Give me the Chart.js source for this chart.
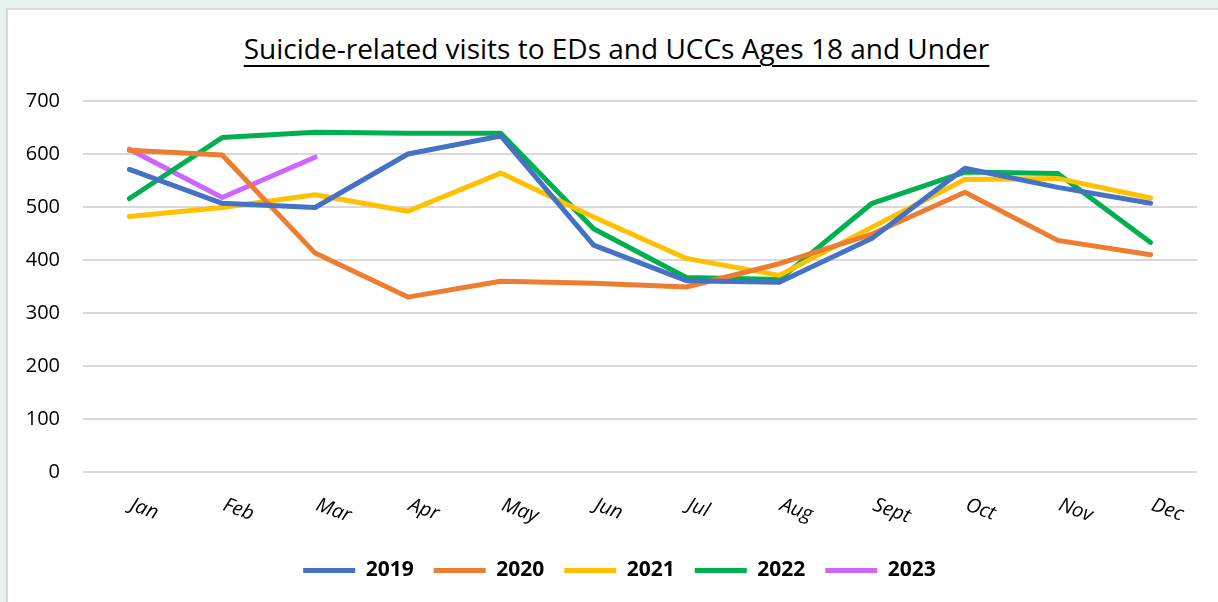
<!DOCTYPE html>
<html>
<head>
<meta charset="utf-8">
<script src="https://cdn.jsdelivr.net/npm/chart.js@4.4.1/dist/chart.umd.min.js"></script>
<style>
  html, body { margin: 0; padding: 0; }
  body { width: 1218px; height: 602px; background: #e9f3ef; position: relative; overflow: hidden; font-family: "Open Sans", sans-serif; }
  #frame { position: absolute; left: 6px; top: 8px; width: 1300px; height: 700px; background: #fff; border: 2px solid #d9d9d9; }
  #title { position: absolute; left: 0; width: 1233px; top: 29px; text-align: center; font-size: 28px; line-height: 38px; color: #000;
           text-decoration: underline; text-decoration-thickness: 2px; text-underline-offset: 6px; }
  #wrap { position: absolute; left: 0; top: 0; width: 1218px; height: 602px; }
</style>
</head>
<body>
<div id="frame"></div>
<div id="title">Suicide-related visits to EDs and UCCs Ages 18 and Under</div>
<div id="wrap"><canvas id="visitsChart" width="1218" height="602"></canvas></div>
<script>
const months = ["Jan", "Feb", "Mar", "Apr", "May", "Jun", "Jul", "Aug", "Sept", "Oct", "Nov", "Dec"];
const yTicks = [0, 100, 200, 300, 400, 500, 600, 700];

const visits2019 = [571, 507, 499, 600, 634, 428, 361, 358, 441, 573, 537, 507];
const visits2020 = [607, 598, 413, 330, 360, 356, 349, 393, 449, 528, 437, 410];
const visits2021 = [482, 499, 523, 492, 564, 481, 403, 371, 462, 552, 554, 517];
const visits2022 = [516, 631, 641, 639, 639, 459, 367, 363, 507, 566, 563, 433];
const visits2023 = [609, 518, 594];

function series(label, data, color) {
    return {
        label: label,
        data: data,
        borderColor: color,
        backgroundColor: color,
        borderWidth: 5,
        borderCapStyle: "round",
        borderJoinStyle: "round",
        pointRadius: 0,
        pointHoverRadius: 0,
        tension: 0,
        fill: false
    };
}

// month labels are slanted downward and start at the tick, so draw them by hand
const slantedLabels = {
    id: "slantedLabels",
    beforeDraw(chart) {
        // nudge the legend a little right, like the original
        chart.legend.left += 11;
        chart.legend.right += 11;
    },
    afterDraw(chart) {
        const ctx = chart.ctx;
        const xs = chart.scales.x;
        ctx.save();
        ctx.font = "italic 20px 'Open Sans'";
        ctx.fillStyle = "#000";
        ctx.textAlign = "left";
        ctx.textBaseline = "top";
        months.forEach((m, i) => {
            const px = xs.getPixelForValue(i);
            ctx.save();
            ctx.translate(px + 5, chart.chartArea.bottom + 23);
            ctx.rotate(20 * Math.PI / 180);
            ctx.fillText(m, 0, 0);
            ctx.restore();
        });
        ctx.restore();
    }
};

const ctx = document.getElementById("visitsChart");

new Chart(ctx, {
    type: "line",
    data: {
        labels: months,
        datasets: [
            series("2019", visits2019, "#4472c4"),
            series("2020", visits2020, "#ed7d31"),
            series("2021", visits2021, "#ffc000"),
            series("2022", visits2022, "#00b050"),
            series("2023", visits2023, "#cc66ff")
        ]
    },
    options: {
        responsive: false,
        animation: false,
        devicePixelRatio: 1,
        layout: { padding: { left: 20, right: 21, top: 101, bottom: 11 } },
        plugins: {
            title: { display: false },
            tooltip: { enabled: false },
            legend: {
                position: "bottom",
                labels: {
                    usePointStyle: true,
                    pointStyle: "line",
                    pointStyleWidth: 52,
                    boxHeight: 5,
                    padding: 20,
                    color: "#000",
                    font: { family: "'Open Sans'", size: 21, weight: "bold" }
                }
            }
        },
        scales: {
            x: {
                offset: true,
                grid: { display: false },
                border: { display: false },
                ticks: { display: false },
                afterFit(scale) { scale.height = 68; }
            },
            y: {
                min: 0,
                max: 700,
                afterBuildTicks(scale) { scale.ticks = yTicks.map(v => ({ value: v })); },
                afterFit(scale) { scale.width = 63; },
                grid: { color: "#d9d9d9", lineWidth: 2, drawTicks: false },
                border: { display: false },
                ticks: {
                    padding: 23,
                    color: "#000",
                    font: { family: "'Open Sans'", size: 20 }
                }
            }
        }
    },
    plugins: [slantedLabels]
});
</script>
</body>
</html>
